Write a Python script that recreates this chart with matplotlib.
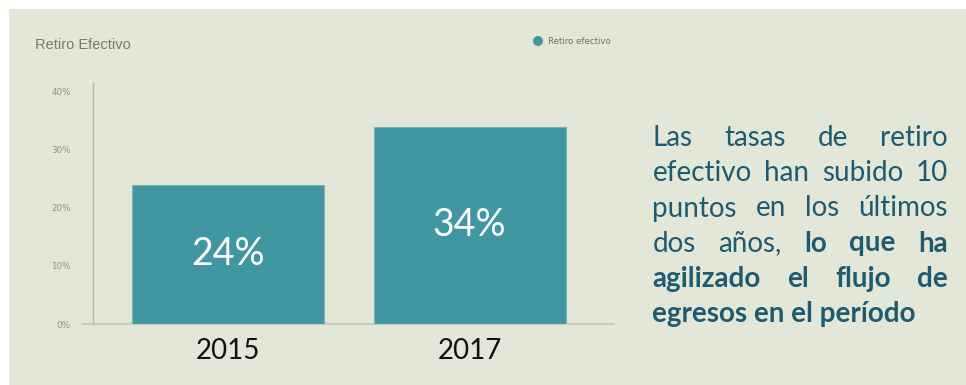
import matplotlib
matplotlib.use("Agg")
import matplotlib.pyplot as plt
from matplotlib.patches import Rectangle, Ellipse
from matplotlib.lines import Line2D

# Data
years = ["2015", "2017"]
retiro_pct = [24, 34]
y_ticks = [0, 10, 20, 30, 40]
series_name = "Retiro efectivo"
chart_title = "Retiro Efectivo"

# Commentary text, split in lines: (word, bold)
commentary = [
    [("Las", False), ("tasas", False), ("de", False), ("retiro", False)],
    [("efectivo", False), ("han", False), ("subido", False), ("10", False)],
    [("puntos", False), ("en", False), ("los", False), ("últimos", False)],
    [("dos", False), ("años,", False), ("lo", True), ("que", True), ("ha", True)],
    [("agilizado", True), ("el", True), ("flujo", True), ("de", True)],
    [("egresos en el período", True)],
]

W, H = 966, 385
BG = "#e3e7d7"
BAR = "#4097a1"
TEXT_BLUE = "#1f5b70"

fig = plt.figure(figsize=(W / 100, H / 100), dpi=100, facecolor="white")


def fx(px):
    return px / W


def fy(py):
    return (H - py) / H


# panel background
fig.patches.append(Rectangle((fx(9), 0), 1 - fx(9), fy(9), transform=fig.transFigure,
                             facecolor=BG, edgecolor="none", zorder=-5))

# chart axes
ax_l, ax_r, ax_t, ax_b = 93, 614, 83, 324
ax = fig.add_axes([fx(ax_l), fy(ax_b), fx(ax_r - ax_l), (ax_b - ax_t) / H])
ax.set_facecolor("none")
ax.set_zorder(2)

xpos = list(range(len(years)))
bars = ax.bar(xpos, retiro_pct, width=0.795, color=BAR, edgecolor="#79b3b7",
              linewidth=0.8, zorder=2)
ax.set_xlim(-0.559, 1.598)
ax.set_ylim(0, 41.5)

for b, v in zip(bars, retiro_pct):
    ax.text(b.get_x() + b.get_width() / 2, v / 2, f"{v}%", ha="center", va="center",
            color="white", fontsize=27, family="Lato", zorder=3)

ax.set_yticks(y_ticks)
ax.set_yticklabels([f"{t}%" for t in y_ticks])
ax.tick_params(axis="y", length=0, pad=16, labelsize=6.3, labelcolor="#8d9184")
for lbl in ax.get_yticklabels():
    lbl.set_family("DejaVu Sans")
ax.set_xticks(xpos)
ax.set_xticklabels(years)
ax.tick_params(axis="x", length=0, pad=10, labelsize=20, labelcolor="#111111")
for lbl in ax.get_xticklabels():
    lbl.set_family("Lato")

for s in ["top", "right", "bottom"]:
    ax.spines[s].set_visible(False)
ax.spines["left"].set_color("#b4b6aa")
ax.spines["left"].set_linewidth(1.0)

# baseline extending slightly left of the axis
ax.add_line(Line2D([-(ax_l - 83) / (ax_r - ax_l), 1], [0, 0], transform=ax.transAxes,
                   color="#cbcdc0", linewidth=1.6, clip_on=False, zorder=1))

# title
fig.text(fx(35), fy(45), chart_title, ha="left", va="center", fontsize=10.5,
         color="#767b6c", family="Liberation Sans")

# legend
fig.patches.append(Ellipse((fx(538), fy(41)), 10 / W, 10 / H, transform=fig.transFigure,
                           facecolor=BAR, edgecolor="none"))
fig.text(fx(548), fy(41), series_name, ha="left", va="center", fontsize=6.2,
         color="#6d7265", family="DejaVu Sans")

# justified commentary block
renderer = fig.canvas.get_renderer()
left_px, right_px = 652.5, 948
baselines = [146, 181, 216.5, 251.5, 287, 322]
font_size = 20

for line, base in zip(commentary, baselines):
    items = []
    for word, bold in line:
        t = fig.text(0, 0, word, fontsize=font_size, family="Lato",
                     weight="bold" if bold else "normal", color=TEXT_BLUE,
                     ha="left", va="baseline")
        w = t.get_window_extent(renderer).width
        items.append((t, w))
    if len(items) > 1:
        gap = (right_px - left_px - sum(w for _, w in items)) / (len(items) - 1)
    else:
        gap = 0
    x = left_px
    for t, w in items:
        t.set_position((fx(x), fy(base)))
        x += w + gap

fig.savefig("out.png", dpi=100, facecolor="white")
